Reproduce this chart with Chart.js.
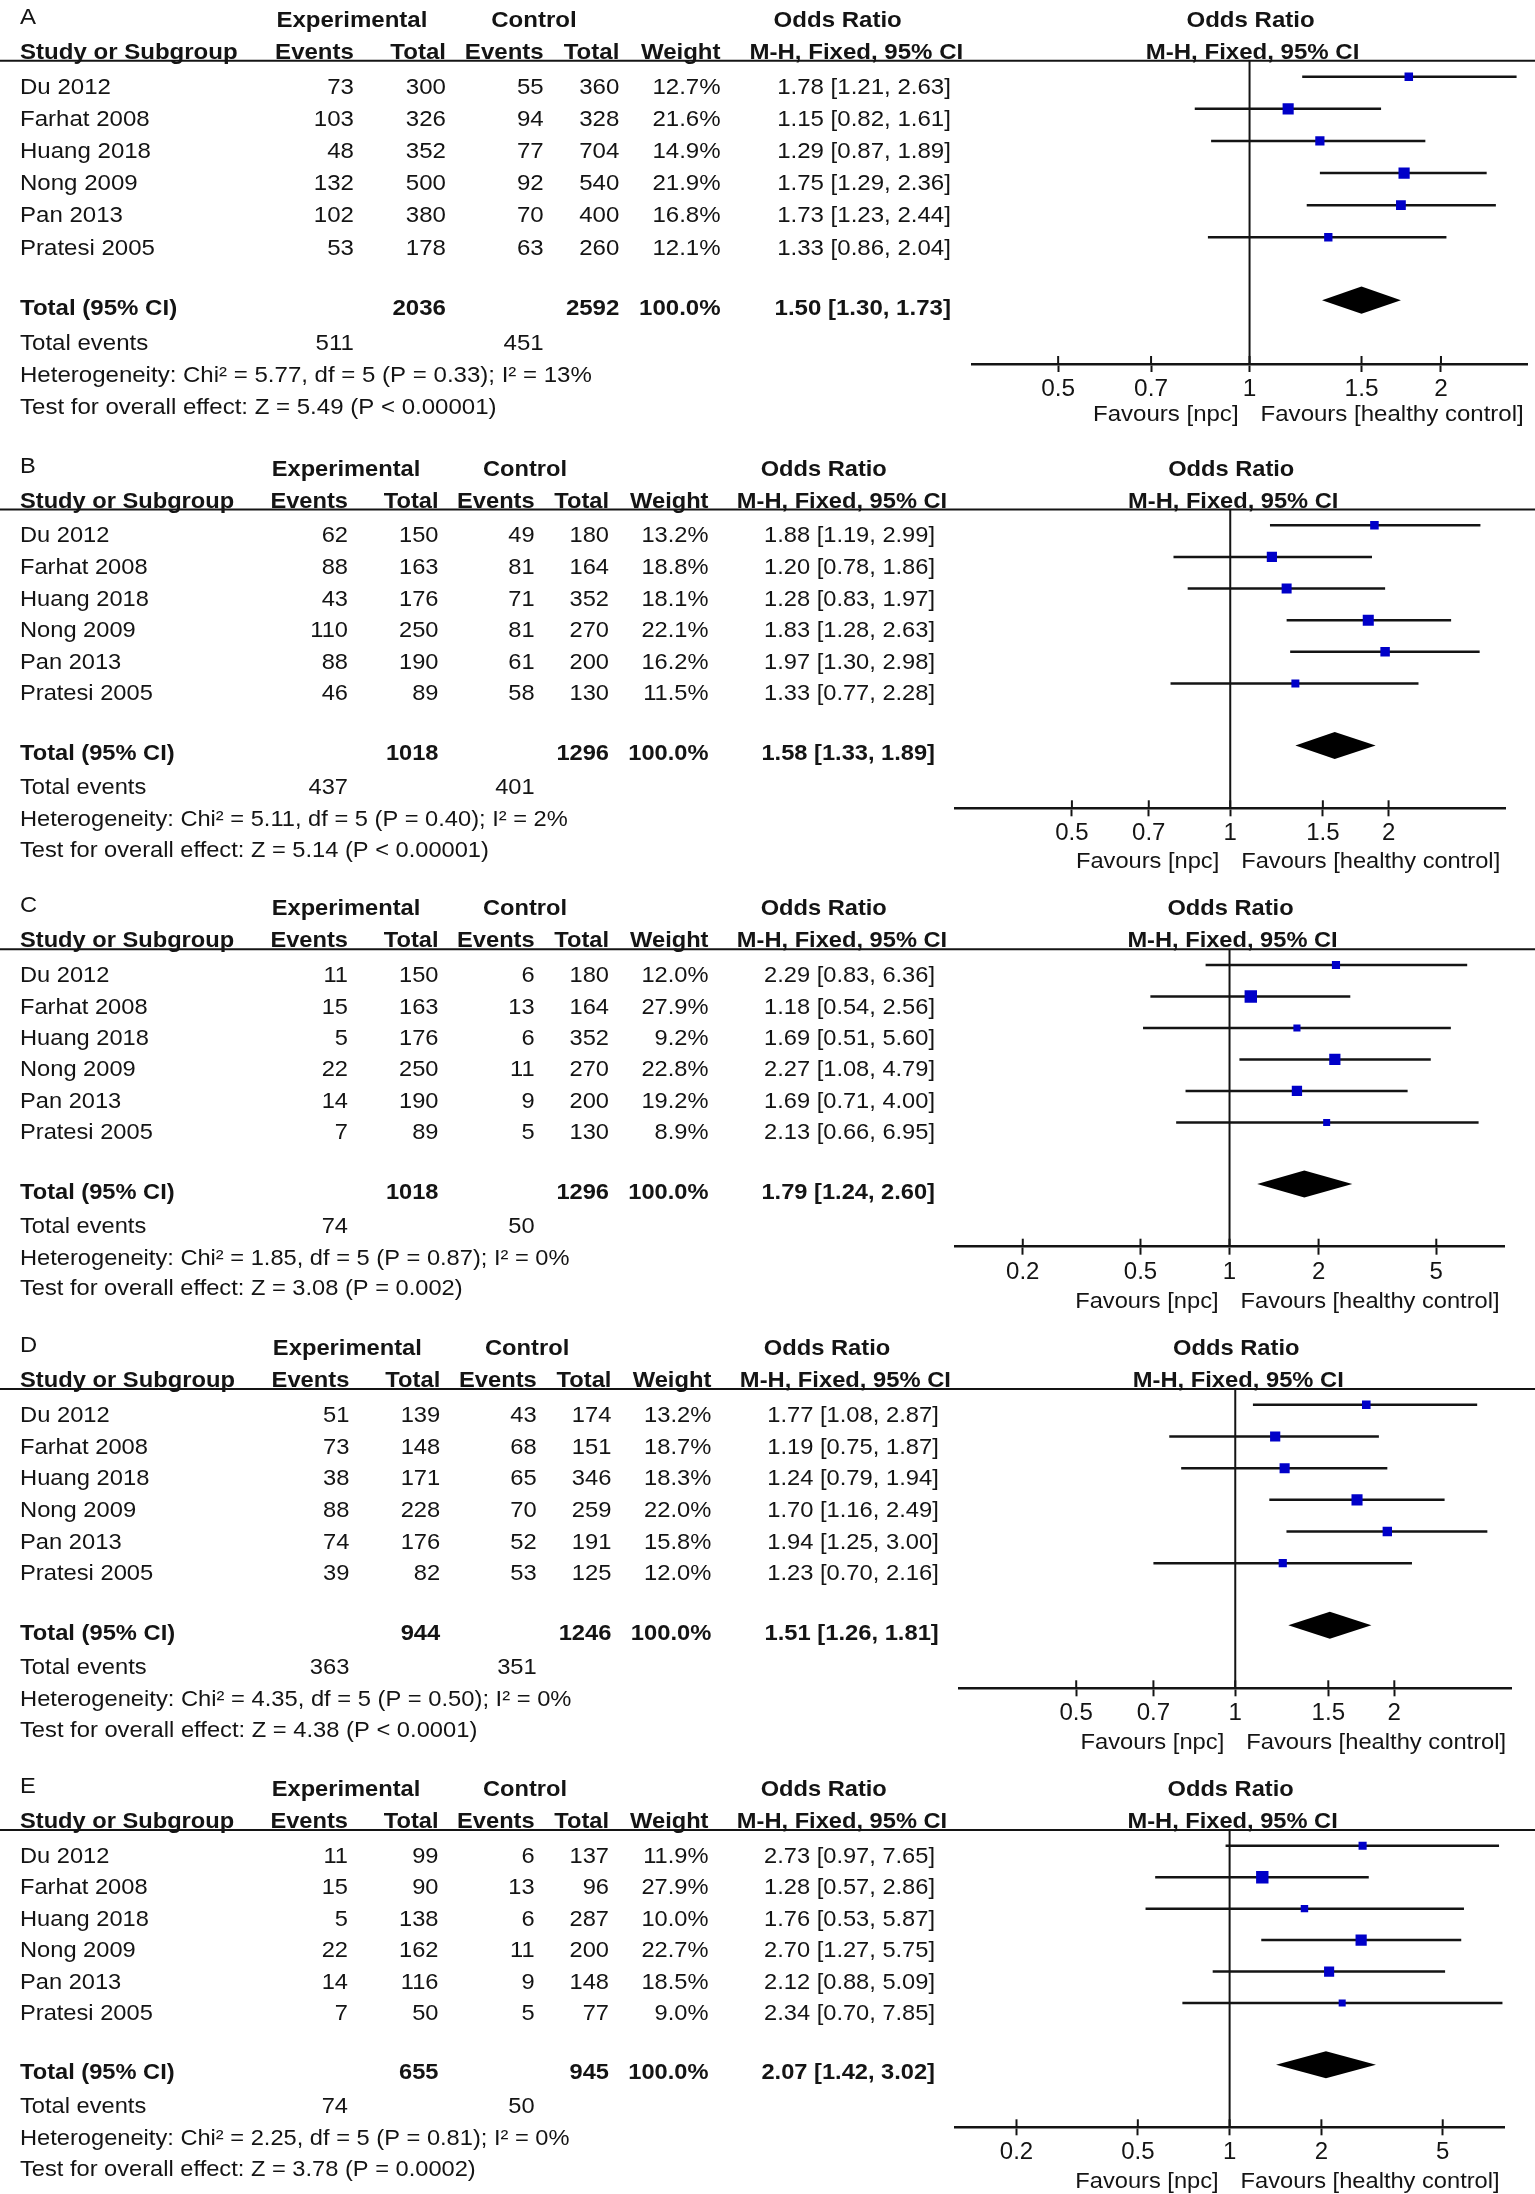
<!DOCTYPE html>
<html>
<head>
<meta charset="utf-8">
<script src="https://cdn.jsdelivr.net/npm/chart.js@4.4.1/dist/chart.umd.min.js"></script>
<style>
html, body { margin: 0; padding: 0; background: #ffffff; width: 1535px; height: 2194px; overflow: hidden; }
canvas { position: absolute; left: 0; }
</style>
</head>
<body>
<canvas id="cA"></canvas>
<canvas id="cB"></canvas>
<canvas id="cC"></canvas>
<canvas id="cD"></canvas>
<canvas id="cE"></canvas>
<script>
// ---------------- DATA ----------------
const studies = ['Du 2012', 'Farhat 2008', 'Huang 2018', 'Nong 2009', 'Pan 2013', 'Pratesi 2005'];
const panelLetters = ['A', 'B', 'C', 'D', 'E'];

const eventsExpA = [73, 103, 48, 132, 102, 53];
const totalExpA  = [300, 326, 352, 500, 380, 178];
const eventsCtlA = [55, 94, 77, 92, 70, 63];
const totalCtlA  = [360, 328, 704, 540, 400, 260];
const weightA    = [12.7, 21.6, 14.9, 21.9, 16.8, 12.1];
const orA        = [1.78, 1.15, 1.29, 1.75, 1.73, 1.33];
const lowA       = [1.21, 0.82, 0.87, 1.29, 1.23, 0.86];
const highA      = [2.63, 1.61, 1.89, 2.36, 2.44, 2.04];
const pooledA    = [1.50, 1.30, 1.73];
const sumTotalsA = [2036, 2592];
const sumEventsA = [511, 451];

const eventsExpB = [62, 88, 43, 110, 88, 46];
const totalExpB  = [150, 163, 176, 250, 190, 89];
const eventsCtlB = [49, 81, 71, 81, 61, 58];
const totalCtlB  = [180, 164, 352, 270, 200, 130];
const weightB    = [13.2, 18.8, 18.1, 22.1, 16.2, 11.5];
const orB        = [1.88, 1.20, 1.28, 1.83, 1.97, 1.33];
const lowB       = [1.19, 0.78, 0.83, 1.28, 1.30, 0.77];
const highB      = [2.99, 1.86, 1.97, 2.63, 2.98, 2.28];
const pooledB    = [1.58, 1.33, 1.89];
const sumTotalsB = [1018, 1296];
const sumEventsB = [437, 401];

const eventsExpC = [11, 15, 5, 22, 14, 7];
const totalExpC  = [150, 163, 176, 250, 190, 89];
const eventsCtlC = [6, 13, 6, 11, 9, 5];
const totalCtlC  = [180, 164, 352, 270, 200, 130];
const weightC    = [12.0, 27.9, 9.2, 22.8, 19.2, 8.9];
const orC        = [2.29, 1.18, 1.69, 2.27, 1.69, 2.13];
const lowC       = [0.83, 0.54, 0.51, 1.08, 0.71, 0.66];
const highC      = [6.36, 2.56, 5.60, 4.79, 4.00, 6.95];
const pooledC    = [1.79, 1.24, 2.60];
const sumTotalsC = [1018, 1296];
const sumEventsC = [74, 50];

const eventsExpD = [51, 73, 38, 88, 74, 39];
const totalExpD  = [139, 148, 171, 228, 176, 82];
const eventsCtlD = [43, 68, 65, 70, 52, 53];
const totalCtlD  = [174, 151, 346, 259, 191, 125];
const weightD    = [13.2, 18.7, 18.3, 22.0, 15.8, 12.0];
const orD        = [1.77, 1.19, 1.24, 1.70, 1.94, 1.23];
const lowD       = [1.08, 0.75, 0.79, 1.16, 1.25, 0.70];
const highD      = [2.87, 1.87, 1.94, 2.49, 3.00, 2.16];
const pooledD    = [1.51, 1.26, 1.81];
const sumTotalsD = [944, 1246];
const sumEventsD = [363, 351];

const eventsExpE = [11, 15, 5, 22, 14, 7];
const totalExpE  = [99, 90, 138, 162, 116, 50];
const eventsCtlE = [6, 13, 6, 11, 9, 5];
const totalCtlE  = [137, 96, 287, 200, 148, 77];
const weightE    = [11.9, 27.9, 10.0, 22.7, 18.5, 9.0];
const orE        = [2.73, 1.28, 1.76, 2.70, 2.12, 2.34];
const lowE       = [0.97, 0.57, 0.53, 1.27, 0.88, 0.70];
const highE      = [7.65, 2.86, 5.87, 5.75, 5.09, 7.85];
const pooledE    = [2.07, 1.42, 3.02];
const sumTotalsE = [655, 945];
const sumEventsE = [74, 50];

const hetChi = ['5.77', '5.11', '1.85', '4.35', '2.25'];
const hetP   = ['0.33', '0.40', '0.87', '0.50', '0.81'];
const hetI2  = [13, 2, 0, 0, 0];
const zValue = ['5.49', '5.14', '3.08', '4.38', '3.78'];
const zP     = ['P < 0.00001', 'P < 0.00001', 'P = 0.002', 'P < 0.0001', 'P = 0.0002'];

const ticksNarrow = [0.5, 0.7, 1, 1.5, 2];
const ticksWide   = [0.2, 0.5, 1, 2, 5];
const favourLeft  = 'Favours [npc]';
const favourRight = 'Favours [healthy control]';

// ---------------- LAYOUT (positions / styles) ----------------
const FONT = '"Liberation Sans", Arial, Helvetica, sans-serif';
const INK = '#141414';
const BLUE = '#0000c8';
const STRETCH = 1.075;
const COL = { label: 20, ev1: 348, tot1: 438.5, ev2: 534.6, tot2: 609, wt: 708.5, or: 935, expC: 346, ctlC: 525, orC: 823.7, mhC: 842 };

const layouts = {
  A: { hl: 60.7,  axis: 364,    left: 972, right: 1531,   xmin: 0.366,  xmax: 2.732, s: 1.017, fav: 57, ticks: ticksNarrow },
  B: { hl: 509.5, axis: 808.3,  left: 955, right: 1505.5, xmin: 0.2997, xmax: 3.337, s: 1.0,   fav: 60, ticks: ticksNarrow },
  C: { hl: 949.3, axis: 1246.7, left: 955, right: 1504,   xmin: 0.118,  xmax: 8.47,  s: 1.0,   fav: 61, ticks: ticksWide },
  D: { hl: 1389,  axis: 1688.3, left: 959, right: 1511.5, xmin: 0.300,  xmax: 3.333, s: 1.004, fav: 61, ticks: ticksNarrow },
  E: { hl: 1830,  axis: 2127.3, left: 955, right: 1504.3, xmin: 0.1257, xmax: 7.96,  s: 1.0,   fav: 61, ticks: ticksWide }
};

const panelData = {
  A: { ee: eventsExpA, te: totalExpA, ec: eventsCtlA, tc: totalCtlA, w: weightA, or: orA, lo: lowA, hi: highA, pooled: pooledA, tot: sumTotalsA, ev: sumEventsA },
  B: { ee: eventsExpB, te: totalExpB, ec: eventsCtlB, tc: totalCtlB, w: weightB, or: orB, lo: lowB, hi: highB, pooled: pooledB, tot: sumTotalsB, ev: sumEventsB },
  C: { ee: eventsExpC, te: totalExpC, ec: eventsCtlC, tc: totalCtlC, w: weightC, or: orC, lo: lowC, hi: highC, pooled: pooledC, tot: sumTotalsC, ev: sumEventsC },
  D: { ee: eventsExpD, te: totalExpD, ec: eventsCtlD, tc: totalCtlD, w: weightD, or: orD, lo: lowD, hi: highD, pooled: pooledD, tot: sumTotalsD, ev: sumEventsD },
  E: { ee: eventsExpE, te: totalExpE, ec: eventsCtlE, tc: totalCtlE, w: weightE, or: orE, lo: lowE, hi: highE, pooled: pooledE, tot: sumTotalsE, ev: sumEventsE }
};

Chart.defaults.font.family = FONT;
Chart.defaults.color = INK;

function drawText(ctx, str, x, y, align, bold, size) {
  ctx.save();
  ctx.font = (bold ? 'bold ' : '') + size.toFixed(2) + 'px ' + FONT;
  ctx.fillStyle = INK;
  ctx.textBaseline = 'alphabetic';
  ctx.textAlign = align;
  ctx.translate(x, y);
  ctx.scale(STRETCH, 1);
  ctx.fillText(str, 0, 0);
  ctx.restore();
}

function fmtCI(o, l, h) {
  return o.toFixed(2) + ' [' + l.toFixed(2) + ', ' + h.toFixed(2) + ']';
}

function makePlugin(letter, idx) {
  const L = layouts[letter];
  const d = panelData[letter];
  return {
    id: 'forest' + letter,
    beforeDatasetsDraw(chart) {
      const ctx = chart.ctx, xs = chart.scales.x, ca = chart.chartArea;
      ctx.save();
      ctx.strokeStyle = INK;
      ctx.lineWidth = 2;
      ctx.beginPath();
      ctx.moveTo(0, ca.top);
      ctx.lineTo(chart.width, ca.top);
      ctx.stroke();
      const x1 = xs.getPixelForValue(1);
      ctx.beginPath();
      ctx.moveTo(x1, ca.top);
      ctx.lineTo(x1, ca.bottom);
      ctx.stroke();
      ctx.restore();
    },
    afterDraw(chart) {
      const ctx = chart.ctx, xs = chart.scales.x, ys = chart.scales.y, ca = chart.chartArea;
      const s = L.s;
      const fs = 22 * s;
      const cx = k => COL[k] * s;
      const top = ca.top;

      // pooled diamond
      const yD = ys.getPixelForValue(6.96);
      const hh = 13.5 * s;
      const xo = xs.getPixelForValue(d.pooled[0]);
      const xl = xs.getPixelForValue(d.pooled[1]);
      const xh = xs.getPixelForValue(d.pooled[2]);
      ctx.save();
      ctx.fillStyle = '#000';
      ctx.beginPath();
      ctx.moveTo(xl, yD);
      ctx.lineTo(xo, yD - hh);
      ctx.lineTo(xh, yD);
      ctx.lineTo(xo, yD + hh);
      ctx.closePath();
      ctx.fill();

      // inward tick stubs
      ctx.strokeStyle = INK;
      ctx.lineWidth = 2;
      L.ticks.forEach(v => {
        const px = xs.getPixelForValue(v);
        ctx.beginPath();
        ctx.moveTo(px, ca.bottom);
        ctx.lineTo(px, ca.bottom - 8);
        ctx.stroke();
      });
      ctx.restore();

      // panel letter + headers
      drawText(ctx, letter, 20, top - 37, 'left', false, fs);
      drawText(ctx, 'Experimental', cx('expC'), top - 34, 'center', true, fs);
      drawText(ctx, 'Control', cx('ctlC'), top - 34, 'center', true, fs);
      drawText(ctx, 'Odds Ratio', cx('orC'), top - 34, 'center', true, fs);
      const x1 = xs.getPixelForValue(1);
      drawText(ctx, 'Odds Ratio', x1 + 1, top - 34, 'center', true, fs);

      drawText(ctx, 'Study or Subgroup', 20, top - 2, 'left', true, fs);
      drawText(ctx, 'Events', cx('ev1'), top - 2, 'right', true, fs);
      drawText(ctx, 'Total', cx('tot1'), top - 2, 'right', true, fs);
      drawText(ctx, 'Events', cx('ev2'), top - 2, 'right', true, fs);
      drawText(ctx, 'Total', cx('tot2'), top - 2, 'right', true, fs);
      drawText(ctx, 'Weight', cx('wt'), top - 2, 'right', true, fs);
      drawText(ctx, 'M-H, Fixed, 95% CI', cx('mhC'), top - 2, 'center', true, fs);
      drawText(ctx, 'M-H, Fixed, 95% CI', x1 + 3, top - 2, 'center', true, fs);

      // study rows
      studies.forEach((name, i) => {
        const y = ys.getPixelForValue(i + 0.54);
        drawText(ctx, name, 20, y, 'left', false, fs);
        drawText(ctx, String(d.ee[i]), cx('ev1'), y, 'right', false, fs);
        drawText(ctx, String(d.te[i]), cx('tot1'), y, 'right', false, fs);
        drawText(ctx, String(d.ec[i]), cx('ev2'), y, 'right', false, fs);
        drawText(ctx, String(d.tc[i]), cx('tot2'), y, 'right', false, fs);
        drawText(ctx, d.w[i].toFixed(1) + '%', cx('wt'), y, 'right', false, fs);
        drawText(ctx, fmtCI(d.or[i], d.lo[i], d.hi[i]), cx('or'), y, 'right', false, fs);
      });

      // total row
      const yT = ys.getPixelForValue(7.42);
      const wSum = d.w.reduce((a, b) => a + b, 0);
      drawText(ctx, 'Total (95% CI)', 20, yT, 'left', true, fs);
      drawText(ctx, String(d.tot[0]), cx('tot1'), yT, 'right', true, fs);
      drawText(ctx, String(d.tot[1]), cx('tot2'), yT, 'right', true, fs);
      drawText(ctx, (Math.round(wSum)).toFixed(1) + '%', cx('wt'), yT, 'right', true, fs);
      drawText(ctx, fmtCI(d.pooled[0], d.pooled[1], d.pooled[2]), cx('or'), yT, 'right', true, fs);

      const yE = ys.getPixelForValue(8.5);
      drawText(ctx, 'Total events', 20, yE, 'left', false, fs);
      drawText(ctx, String(d.ev[0]), cx('ev1'), yE, 'right', false, fs);
      drawText(ctx, String(d.ev[1]), cx('ev2'), yE, 'right', false, fs);

      const yH = ys.getPixelForValue(9.52);
      drawText(ctx, 'Heterogeneity: Chi\u00b2 = ' + hetChi[idx] + ', df = 5 (P = ' + hetP[idx] + '); I\u00b2 = ' + hetI2[idx] + '%', 20, yH, 'left', false, fs);
      const yZ = ys.getPixelForValue(10.5);
      drawText(ctx, 'Test for overall effect: Z = ' + zValue[idx] + ' (' + zP[idx] + ')', 20, yZ, 'left', false, fs);

      // favours labels
      const yF = ca.bottom + L.fav;
      drawText(ctx, favourLeft, x1 - 11, yF, 'right', false, fs);
      drawText(ctx, favourRight, x1 + 11, yF, 'left', false, fs);
    }
  };
}

function buildPanel(letter, idx) {
  const L = layouts[letter];
  const d = panelData[letter];
  const canvas = document.getElementById('c' + letter);
  const top = Math.round(L.hl - 61);
  const H = Math.round(L.axis - top + 66);
  canvas.width = 1535;
  canvas.height = H;
  canvas.style.top = top + 'px';
  canvas.style.width = '1535px';
  canvas.style.height = H + 'px';
  const axisRel = L.axis - top;

  const datasets = [];
  datasets.push({
    label: 'Odds ratio',
    order: 0,
    data: d.or.map((v, i) => ({ x: v, y: i })),
    showLine: false,
    pointStyle: 'rect',
    pointRadius: c => 2.35 * Math.sqrt(d.w[c.dataIndex]) * L.s / Math.SQRT2,
    pointHoverRadius: c => 2.35 * Math.sqrt(d.w[c.dataIndex]) * L.s / Math.SQRT2,
    backgroundColor: BLUE,
    borderColor: BLUE,
    borderWidth: 0
  });
  studies.forEach((name, i) => {
    datasets.push({
      label: name + ' 95% CI',
      order: 1,
      data: [{ x: d.lo[i], y: i }, { x: d.hi[i], y: i }],
      showLine: true,
      borderColor: INK,
      borderWidth: 2.5,
      pointRadius: 0,
      pointHoverRadius: 0,
      fill: false
    });
  });

  new Chart(canvas, {
    type: 'scatter',
    data: { datasets },
    options: {
      responsive: false,
      maintainAspectRatio: false,
      animation: false,
      devicePixelRatio: 1,
      events: [],
      layout: { padding: { left: L.left, right: 1535 - L.right, top: L.hl - top, bottom: 0 } },
      plugins: { legend: { display: false }, tooltip: { enabled: false } },
      scales: {
        x: {
          type: 'logarithmic',
          position: 'bottom',
          min: L.xmin,
          max: L.xmax,
          afterBuildTicks: sc => { sc.ticks = L.ticks.map(v => ({ value: v })); },
          afterFit: sc => { sc.height = H - axisRel; },
          ticks: {
            autoSkip: false,
            maxRotation: 0,
            padding: 3,
            color: INK,
            font: { family: FONT, size: 24 * L.s },
            callback: v => String(v)
          },
          grid: { display: true, drawOnChartArea: false, drawTicks: true, tickLength: 8, tickWidth: 2, tickColor: INK },
          border: { display: true, color: INK, width: 2.5 }
        },
        y: { type: 'linear', reverse: true, min: -0.5, max: 8.95, display: false }
      }
    },
    plugins: [makePlugin(letter, idx)]
  });
}

panelLetters.forEach((l, i) => buildPanel(l, i));
</script>
</body>
</html>
